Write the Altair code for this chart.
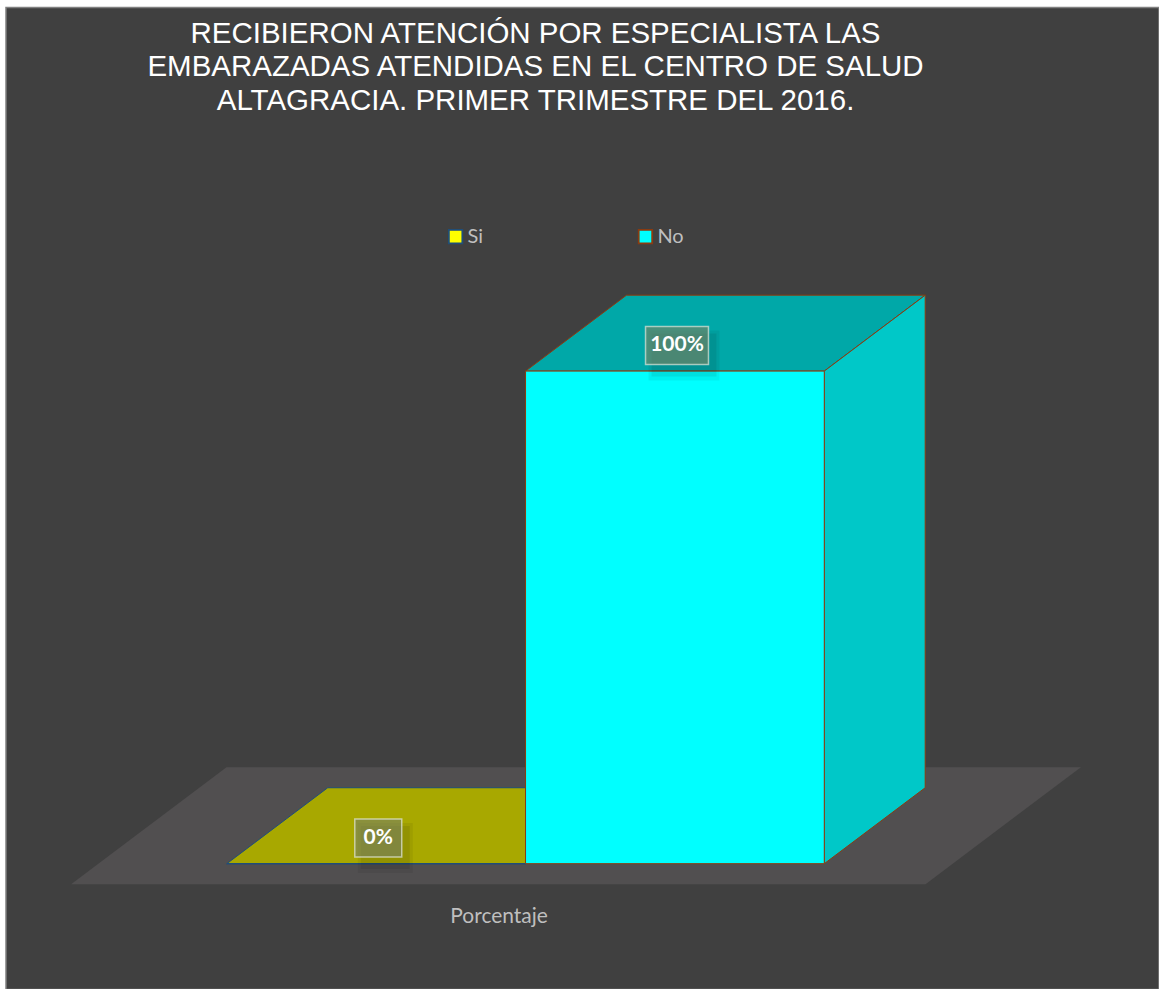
import altair as alt
import pandas as pd

# ---------------- data ----------------
categories = ["Si", "No"]
values = [0, 100]
labels = ["0%", "100%"]
series_title = "Porcentaje"
title_lines = [
    "RECIBIERON ATENCIÓN POR ESPECIALISTA LAS",
    "EMBARAZADAS ATENDIDAS EN EL CENTRO DE SALUD",
    "ALTAGRACIA. PRIMER TRIMESTRE DEL 2016.",
]

# ---------------- styles ----------------
front_colors = ["#ffff00", "#00ffff"]
top_colors = ["#a8a800", "#00a8a8"]
side_colors = ["#c8c800", "#00c8c8"]
edge_colors = ["#1f4e79", "#8b3a0f"]
floor_color = "#514f50"
bg_color = "#404040"
text_gray = "#bfbfbf"

# ---------------- layout ----------------
W, H = 1154, 983            # plot area
X0_PX, BAR_PX = 221, 299    # left edge of first bar, bar width (px)
Y0_PX, PX_PER_PCT = 857, 4.93
DX, DY = 101 / BAR_PX, 76 / PX_PER_PCT   # oblique depth in data units
FLOOR_SIDE, FLOOR_T = 0.43, [-0.27, 1.27]
LAB_DX, LAB_DY = 0.507, 5.2

xdom = [-X0_PX / BAR_PX, (W - X0_PX) / BAR_PX]
ydom = [(Y0_PX - H) / PX_PER_PCT, Y0_PX / PX_PER_PCT]
xs = alt.Scale(domain=xdom, nice=False, zero=False)
ys = alt.Scale(domain=ydom, nice=False, zero=False)
n = len(categories)

x_axis = alt.Axis(
    title=series_title, domain=False, ticks=False, labels=False, grid=False,
    titleColor=text_gray, titleFont="Lato", titleFontSize=21,
    titleFontWeight="normal", titleX=493, titleY=-73,
    titleBaseline="middle", titleAlign="center")


def X(field):
    return alt.X(field, scale=xs, axis=x_axis, title=series_title)


def Y(field):
    return alt.Y(field, scale=ys, axis=None)


df = pd.DataFrame({"cat": categories, "value": values, "label": labels,
                   "idx": list(range(n))})
floor_df = pd.DataFrame({"t": FLOOR_T})

base = alt.Chart(df)

floor = alt.Chart(floor_df).transform_calculate(
    fy=f"datum.t*{DY}",
    fxa=f"-{FLOOR_SIDE} + datum.t*{DX}",
    fxb=f"{n} + {FLOOR_SIDE} + datum.t*{DX}",
).mark_area(orient="horizontal", color=floor_color).encode(
    y=Y("fy:Q"), x=X("fxa:Q"), x2="fxb:Q",
)

two = base.transform_calculate(t="[0, 1]").transform_flatten(["t"])

tops = two.transform_calculate(
    yy=f"datum.value + datum.t*{DY}",
    xa=f"datum.idx + datum.t*{DX}",
    xb=f"datum.idx + 1 + datum.t*{DX}",
).mark_area(orient="horizontal", strokeWidth=1).encode(
    y=Y("yy:Q"), x=X("xa:Q"), x2="xb:Q",
    fill=alt.Fill("cat:N", scale=alt.Scale(domain=categories, range=top_colors), legend=None),
    stroke=alt.Stroke("cat:N", scale=alt.Scale(domain=categories, range=edge_colors), legend=None),
    detail="cat:N",
)

sides = two.transform_filter("datum.value > 0").transform_calculate(
    xx=f"datum.idx + 1 + datum.t*{DX}",
    ya=f"datum.t*{DY}",
    yb=f"datum.value + datum.t*{DY}",
).mark_area(orient="vertical", strokeWidth=1).encode(
    x=X("xx:Q"), y=Y("ya:Q"), y2="yb:Q",
    fill=alt.Fill("cat:N", scale=alt.Scale(domain=categories, range=side_colors), legend=None),
    stroke=alt.Stroke("cat:N", scale=alt.Scale(domain=categories, range=edge_colors), legend=None),
    detail="cat:N",
)

# legend key outline colour per entry, taken from the edge colour list
edge_expr = f"{edge_colors}[indexof({categories}, datum.value)]"

fronts = base.transform_calculate(
    x0="datum.idx", x1="datum.idx + 1", y0="0"
).mark_rect(strokeWidth=1).encode(
    x=X("x0:Q"), x2="x1:Q", y=Y("y0:Q"), y2="value:Q",
    fill=alt.Fill("cat:N", scale=alt.Scale(domain=categories, range=front_colors),
                  legend=alt.Legend(
                      title=None, orient="none", legendX=440, legendY=219,
                      direction="horizontal", symbolType="square",
                      symbolSize=182, symbolStrokeWidth=1.8,
                      symbolStrokeColor=alt.ExprRef(expr=edge_expr),
                      symbolOpacity=1,
                      labelFont="Lato", labelFontSize=20, labelColor=text_gray,
                      labelOffset=2, columnPadding=151, padding=0)),
    stroke=alt.Stroke("cat:N", scale=alt.Scale(domain=categories, range=edge_colors), legend=None),
)

lab = base.transform_calculate(
    cx=f"datum.idx + {LAB_DX}",
    cy=f"datum.value + {LAB_DY}",
    hw=f"(31 + 8*length(datum.label))/2/{BAR_PX}",
    hh=f"19/{PX_PER_PCT}",
).transform_calculate(
    xa="datum.cx - datum.hw", xb="datum.cx + datum.hw",
    ya="datum.cy - datum.hh", yb="datum.cy + datum.hh",
)

box_enc = dict(x=X("xa:Q"), x2="xb:Q", y=Y("ya:Q"), y2="yb:Q")

shadow1 = lab.mark_rect(fill="black", fillOpacity=0.06, xOffset=3, x2Offset=11,
                        yOffset=16, y2Offset=4).encode(**box_enc)
shadow2 = lab.mark_rect(fill="black", fillOpacity=0.07, xOffset=6, x2Offset=8,
                        yOffset=12, y2Offset=7).encode(**box_enc)
boxes = lab.mark_rect(fill="#778161", fillOpacity=0.62, stroke="#dfe6d8",
                      strokeOpacity=0.7, strokeWidth=1.5).encode(**box_enc)
texts = lab.mark_text(font="Lato", fontSize=21, fontWeight="bold", color="white",
                      baseline="middle", align="center").encode(
    x=X("cx:Q"), y=Y("cy:Q"), text="label:N",
)

chart = alt.layer(floor, tops, sides, fronts, shadow1, shadow2, boxes,
                  texts).resolve_scale(
    fill="independent", stroke="independent"
).properties(
    width=W, height=H,
    title=alt.TitleParams(text=title_lines, font="Liberation Sans", fontSize=29.5,
                          fontWeight="normal", color="white", anchor="middle",
                          lineHeight=33.4, dx=-47, dy=113, baseline="top"),
    padding={"left": 6, "top": 7, "right": 0, "bottom": 0},
    autosize=alt.AutoSizeParams(type="none"),
    background="white",
).configure_view(fill=bg_color, stroke="#808080", strokeWidth=1.5)

chart.save("out.html", embed_options={"renderer": "svg", "actions": False})
